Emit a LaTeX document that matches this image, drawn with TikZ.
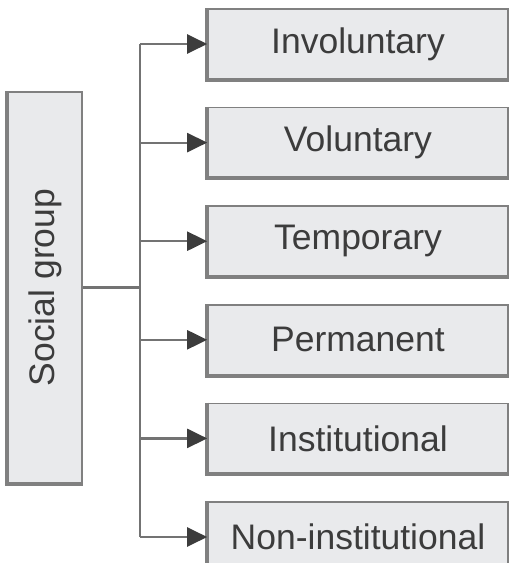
\documentclass[tikz,border=0pt]{standalone}
\usepackage{fontspec}
\setmainfont{Liberation Sans}
\usetikzlibrary{positioning}
\usetikzlibrary{arrows.meta}

\definecolor{boxfill}{RGB}{233,234,236}
\definecolor{boxline}{RGB}{128,128,128}
\definecolor{linkgray}{RGB}{115,115,115}
\definecolor{textgray}{RGB}{60,60,60}

\begin{document}
\begin{tikzpicture}[x=1pt, y=-1pt, node distance=27pt,
    kind/.style={draw=boxline, line width=1.6pt, fill=boxfill, text=textgray,
      minimum width=300pt, minimum height=70pt, inner sep=0pt,
      font=\fontsize{35.5}{40}\selectfont},
    link/.style={draw=linkgray, line width=2.2pt},
    edge/.style={draw=boxline, line width=4pt}]

  \useasboundingbox (0,0) rectangle (512,563);

  \node[kind, minimum width=391pt, minimum height=74pt, rotate=90] (social) at (45,287.5) {Social group};

  \node[kind] (inv) at (358,44) {Involuntary};
  \node[kind, below=of inv] (vol) {Voluntary};
  \node[kind, below=of vol] (tem) {Temporary};
  \node[kind, below=of tem] (per) {Permanent};
  \node[kind, below=of per] (ins) {Institutional};
  \node[kind, below=of ins] (non) {Non-institutional};

  % heavier left and bottom sides
  \draw[edge] (social.south west) -- (social.north west) -- (social.north east);
  \foreach \n in {inv,vol,tem,per,ins,non}
    \draw[edge] (\n.north west) -- (\n.south west) -- (\n.south east);

  \coordinate (x0) at (140,0);
  \draw[link] (inv.west -| x0) -- (non.west -| x0);
  \draw[link] (social) -- (social -| x0);
  \foreach \n in {inv,vol,tem,per,ins,non}
    \draw[link, -{Triangle[length=20pt, width=19pt, color=textgray]}] (\n.west -| x0) -- (\n.west);

\end{tikzpicture}
\end{document}
